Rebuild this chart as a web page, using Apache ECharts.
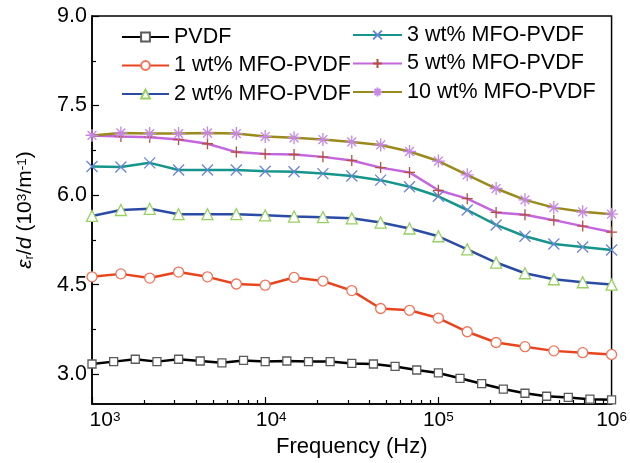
<!DOCTYPE html>
<html>
<head>
<meta charset="utf-8">
<script src="https://cdn.jsdelivr.net/npm/echarts@6/dist/echarts.min.js"></script>
<style>
html,body{margin:0;padding:0;background:#fff;}
#chart{width:630px;height:463px;}
</style>
</head>
<body>
<div id="chart"></div>
<script>
// Frequencies (Hz)
const freqPVDF = [1000, 1334, 1778, 2371, 3162, 4217, 5623, 7499, 10000, 13335, 17783, 23714, 31623, 42170, 56234, 74989, 100000, 133352, 177828, 237137, 316228, 421697, 562341, 749894, 1000000];
const freqMFO = [1000, 1468, 2154, 3162, 4642, 6813, 10000, 14678, 21544, 31623, 46416, 68129, 100000, 146780, 215443, 316228, 464159, 681292, 1000000];

// eps_r/d values (10^3/m^-1)
const pvdf  = [3.17, 3.21, 3.25, 3.21, 3.25, 3.22, 3.19, 3.23, 3.21, 3.22, 3.21, 3.21, 3.18, 3.17, 3.13, 3.07, 3.02, 2.93, 2.84, 2.75, 2.68, 2.63, 2.61, 2.58, 2.57];
const mfo1  = [4.63, 4.68, 4.61, 4.71, 4.63, 4.51, 4.49, 4.62, 4.56, 4.40, 4.10, 4.07, 3.94, 3.71, 3.53, 3.46, 3.39, 3.36, 3.33];
const mfo2  = [5.65, 5.75, 5.77, 5.68, 5.68, 5.68, 5.66, 5.64, 5.63, 5.61, 5.54, 5.44, 5.31, 5.09, 4.87, 4.69, 4.59, 4.54, 4.50];
const mfo3  = [6.48, 6.47, 6.54, 6.42, 6.42, 6.42, 6.40, 6.39, 6.36, 6.32, 6.25, 6.14, 5.98, 5.75, 5.50, 5.31, 5.18, 5.13, 5.08];
const mfo5  = [7.00, 6.98, 6.97, 6.93, 6.86, 6.72, 6.69, 6.68, 6.64, 6.58, 6.46, 6.38, 6.08, 5.94, 5.71, 5.67, 5.58, 5.48, 5.38];
const mfo10 = [7.00, 7.04, 7.03, 7.03, 7.04, 7.03, 6.98, 6.96, 6.93, 6.89, 6.84, 6.73, 6.57, 6.34, 6.11, 5.92, 5.79, 5.72, 5.68];

const seriesNames = ['PVDF', '1 wt% MFO-PVDF', '2 wt% MFO-PVDF', '3 wt% MFO-PVDF', '5 wt% MFO-PVDF', '10 wt% MFO-PVDF'];

const yMajorTicks = [3.0, 4.5, 6.0, 7.5, 9.0];
const yMinorTicks = [3.75, 5.25, 6.75, 8.25];
const xMinorTicks = [2000, 3000, 4000, 5000, 6000, 7000, 8000, 9000,
  20000, 30000, 40000, 50000, 60000, 70000, 80000, 90000,
  200000, 300000, 400000, 500000, 600000, 700000, 800000, 900000];

const FONT = 'Arial, "Liberation Sans", Helvetica, sans-serif';

function pairs(xs, ys) { return xs.map((x, i) => [x, ys[i]]); }

const SYM_X = 'path://M0,0L10,10M10,0L0,10';
const SYM_PLUS = 'path://M5,0L5,10M0,5L10,5';
const SYM_AST = 'path://M5,0L5,10M0,5L10,5M1.6,1.6L8.4,8.4M8.4,1.6L1.6,8.4';

function mk(name, xs, ys, lineColor, symbol, symColor, size, bw) {
  return {
    name: name, type: 'line', data: pairs(xs, ys),
    symbol: symbol, symbolSize: size, showAllSymbol: true,
    lineStyle: { color: lineColor, width: 2.5 },
    itemStyle: { color: '#fff', borderColor: symColor, borderWidth: bw },
    emphasis: { disabled: true },
    animation: false
  };
}

const chart = echarts.init(document.getElementById('chart'), null, { renderer: 'canvas' });

const legendText = { fontFamily: FONT, fontSize: 21.5, color: '#000' };

chart.setOption({
  backgroundColor: '#fff',
  animation: false,
  grid: { left: 92, right: 13, top: 16, bottom: 58, show: true, borderColor: '#000', borderWidth: 1.5, backgroundColor: 'transparent' },
  legend: [
    { data: seriesNames.slice(0, 3), orient: 'vertical', left: 116, top: 21, itemWidth: 47, itemHeight: 11, itemGap: 6.5, itemTextGap: 4, textStyle: legendText, selectedMode: false },
    { data: seriesNames.slice(3), orient: 'vertical', left: 347, top: 19, itemWidth: 49, itemHeight: 11, itemGap: 6.5, itemTextGap: 3, textStyle: legendText, selectedMode: false }
  ],
  xAxis: [
    {
      type: 'log', logBase: 10, min: 1000, max: 1000000,
      name: 'Frequency (Hz)', nameLocation: 'middle', nameGap: 32,
      nameTextStyle: { fontFamily: FONT, fontSize: 22, color: '#000' },
      axisLine: { show: true, lineStyle: { color: '#000', width: 1.5 } },
      axisTick: { show: true, inside: true, length: 7, lineStyle: { color: '#000', width: 1.2 } },
      splitLine: { show: false },
      axisLabel: {
        margin: 6, color: '#000',
        formatter: function (v) {
          const e = Math.round(Math.log10(v));
          let pre = '';
          if (e === 3) pre = '{p3| }';
          if (e === 4) pre = '{p4| }';
          return pre + '{b|10}{s|' + e + '}';
        },
        rich: {
          b: { fontFamily: FONT, fontSize: 21, color: '#000' },
          s: { fontFamily: FONT, fontSize: 13.5, color: '#000', verticalAlign: 'top', padding: [0, 0, 7, 0] },
          p3: { width: 26, fontSize: 21 },
          p4: { width: 12, fontSize: 21 }
        }
      }
    },
    {
      type: 'log', logBase: 10, min: 1000, max: 1000000, position: 'bottom',
      axisLine: { show: false },
      axisLabel: { show: false },
      splitLine: { show: false },
      axisTick: { show: true, inside: true, length: 4, customValues: xMinorTicks, lineStyle: { color: '#000', width: 1.2 } }
    }
  ],
  yAxis: [
    {
      type: 'value', min: 2.5, max: 9.0,
      name: '{i|ε}{sub|r}{n|/}{i|d}{n| (10}{sup|3}{n|/m}{sup|-1}{n|)}',
      nameLocation: 'middle', nameGap: 56, nameRotate: 90,
      nameTextStyle: {
        fontFamily: FONT, fontSize: 21, color: '#000',
        rich: {
          i: { fontFamily: FONT, fontSize: 21, fontStyle: 'italic', color: '#000' },
          n: { fontFamily: FONT, fontSize: 21, color: '#000' },
          sub: { fontFamily: FONT, fontSize: 13.5, color: '#000', verticalAlign: 'bottom', padding: [6, 0, 0, 0] },
          sup: { fontFamily: FONT, fontSize: 13.5, color: '#000', verticalAlign: 'top', padding: [0, 0, 7, 0] }
        }
      },
      axisLine: { show: true, lineStyle: { color: '#000', width: 1.5 } },
      axisTick: { show: true, inside: true, length: 7, customValues: yMajorTicks, lineStyle: { color: '#000', width: 1.2 } },
      splitLine: { show: false },
      axisLabel: {
        customValues: yMajorTicks, margin: 5, color: '#000', fontFamily: FONT, fontSize: 21.5,
        formatter: function (v) { return v.toFixed(1); }
      }
    },
    {
      type: 'value', min: 2.5, max: 9.0, position: 'left',
      axisLine: { show: false },
      axisLabel: { show: false },
      splitLine: { show: false },
      axisTick: { show: true, inside: true, length: 4, customValues: yMinorTicks, lineStyle: { color: '#000', width: 1.2 } }
    }
  ],
  series: [
    mk(seriesNames[0], freqPVDF, pvdf, '#000000', 'rect', '#5a5a5a', 8, 1.3),
    mk(seriesNames[1], freqMFO, mfo1, '#e8451f', 'circle', '#f2735a', 10, 1.3),
    mk(seriesNames[2], freqMFO, mfo2, '#2b4ba6', 'triangle', '#98d062', 11, 1.3),
    mk(seriesNames[3], freqMFO, mfo3, '#16958c', SYM_X, '#6a84d6', 11, 1.3),
    mk(seriesNames[4], freqMFO, mfo5, '#c466dd', SYM_PLUS, '#b5513f', 11, 1.3),
    mk(seriesNames[5], freqMFO, mfo10, '#9a8a1c', SYM_AST, '#c586e8', 13, 1.3)
  ]
});
</script>
</body>
</html>
